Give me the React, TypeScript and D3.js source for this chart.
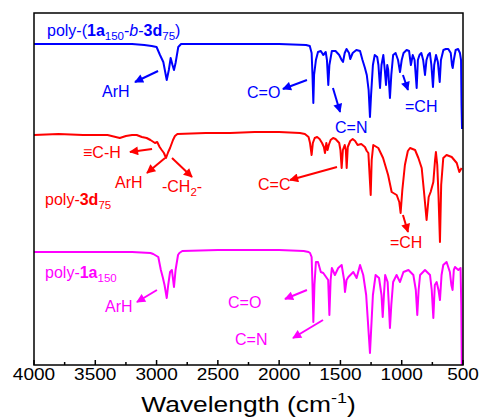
import React, { useEffect, useRef } from "react";
import * as d3 from "d3";

// IR spectra, wavenumber in cm-1, intensity in stacked a.u.
const xTicks = [4000, 3500, 3000, 2500, 2000, 1500, 1000, 500];
const minorTicks = [3750, 3250, 2750, 2250, 1750, 1250, 750];

const blueWn = [4000, 3500, 3200, 3100, 3040, 3000, 2972, 2945, 2925, 2917, 2900, 2885, 2870, 2858, 2845, 2823, 2800, 2500, 2000, 1780, 1750, 1735, 1728, 1721, 1715, 1700, 1683, 1660, 1640, 1620, 1610, 1599, 1590, 1570, 1540, 1510, 1490, 1479, 1465, 1450, 1430, 1420, 1400, 1370, 1340, 1320, 1300, 1285, 1270, 1259, 1250, 1235, 1220, 1200, 1190, 1177, 1165, 1150, 1138, 1128, 1118, 1110, 1096, 1085, 1070, 1050, 1030, 1014, 1000, 985, 960, 940, 925, 910, 895, 878, 868, 855, 840, 825, 810, 798, 785, 770, 758, 745, 735, 720, 705, 690, 680, 660, 640, 620, 600, 590, 584, 575, 560, 540, 525, 516, 512, 508];
const blueVal = [321, 321, 321, 320, 319, 318, 310, 303, 290, 285, 295, 307, 300, 295, 302, 318, 321, 321, 321, 320, 319, 312, 290, 262, 290, 305, 313, 314, 310, 313, 305, 280, 300, 314, 314, 310, 305, 303, 312, 316, 312, 306, 312, 315, 314, 305, 297, 290, 275, 248, 270, 300, 310, 308, 300, 277, 300, 310, 295, 280, 300, 295, 267, 290, 310, 312, 305, 293, 305, 312, 315, 314, 300, 310, 305, 277, 305, 310, 312, 305, 290, 305, 310, 312, 300, 278, 300, 310, 303, 283, 305, 315, 316, 316, 312, 300, 297, 305, 315, 316, 312, 305, 260, 236];

const redWn = [4000, 3800, 3600, 3400, 3300, 3250, 3200, 3162, 3120, 3081, 3050, 3013, 2995, 2975, 2958, 2940, 2923, 2905, 2890, 2875, 2866, 2850, 2830, 2600, 2400, 2200, 2000, 1830, 1790, 1760, 1748, 1735, 1725, 1710, 1690, 1670, 1650, 1635, 1626, 1615, 1605, 1595, 1580, 1560, 1540, 1510, 1500, 1490, 1480, 1465, 1456, 1449, 1440, 1420, 1400, 1380, 1360, 1330, 1300, 1285, 1272, 1253, 1245, 1232, 1191, 1152, 1111, 1082, 1041, 1020, 1009, 995, 974, 950, 932, 891, 864, 837, 818, 797, 780, 764, 742, 728, 721, 710, 700, 688, 678, 661, 634, 592, 551, 530, 511];
const redVal = [230, 231, 230, 230, 227, 229, 230, 230, 228, 227, 225, 222, 223, 218, 215, 212, 207, 213, 217, 222, 225, 229, 231, 232, 232, 233, 233, 232, 231, 228, 222, 210, 222, 227, 228, 226, 222, 218, 212, 222, 215, 220, 225, 227, 226, 222, 215, 197, 215, 220, 215, 197, 218, 224, 226, 224, 220, 221, 218, 214, 212, 170, 205, 220, 217, 207, 190, 173, 170, 163, 152, 175, 200, 214, 217, 215, 207, 197, 173, 145, 168, 173, 183, 205, 213, 200, 170, 123, 180, 207, 210, 208, 202, 193, 197];

const pinkWn = [4000, 3500, 3200, 3050, 3027, 2986, 2965, 2950, 2935, 2917, 2905, 2890, 2875, 2858, 2845, 2825, 2814, 2790, 2500, 2200, 2000, 1800, 1760, 1748, 1735, 1728, 1721, 1712, 1700, 1683, 1660, 1640, 1600, 1590, 1580, 1570, 1545, 1518, 1490, 1470, 1463, 1450, 1435, 1395, 1368, 1340, 1314, 1290, 1259, 1235, 1213, 1185, 1165, 1155, 1145, 1135, 1115, 1105, 1096, 1085, 1070, 1042, 1014, 986, 945, 905, 885, 873, 862, 850, 810, 769, 755, 742, 730, 715, 700, 688, 675, 661, 634, 607, 595, 585, 575, 565, 538, 520, 514, 510];
const pinkVal = [113, 113, 113, 112, 111, 108, 95, 88, 80, 67, 80, 93, 95, 78, 95, 110, 112, 114, 115, 115, 115, 114, 113, 112, 108, 80, 43, 80, 103, 103, 93, 92, 85, 50, 85, 97, 90, 97, 100, 85, 73, 85, 88, 93, 87, 100, 90, 70, 12, 70, 90, 87, 70, 48, 70, 90, 83, 60, 37, 60, 83, 90, 83, 93, 95, 90, 75, 50, 75, 90, 95, 90, 75, 47, 80, 83, 75, 65, 90, 100, 103, 93, 80, 75, 95, 98, 95, 97, 60, 0];

type Part = { t: string; b?: boolean; i?: boolean; sub?: boolean };

const blueName: Part[] = [{ t: "poly-(" }, { t: "1a", b: true }, { t: "150", sub: true }, { t: "-" }, { t: "b", i: true }, { t: "-" }, { t: "3d", b: true }, { t: "75", sub: true }, { t: ")" }];
const redName: Part[] = [{ t: "poly-" }, { t: "3d", b: true }, { t: "75", sub: true }];
const pinkName: Part[] = [{ t: "poly-" }, { t: "1a", b: true }, { t: "150", sub: true }];

// annotations in data units: label at (lx, ly), arrow from (a0, a1) to (a2, a3)
type Note = { parts: Part[]; lx: number; ly: number; a?: number[] };
const blueNotes: Note[] = [
  { parts: [{ t: "ArH" }], lx: 3445, ly: 268, a: [2988, 294, 3176, 283] },
  { parts: [{ t: "C=O" }], lx: 2262, ly: 267, a: [1773, 285, 1969, 276] },
  { parts: [{ t: "C=N" }], lx: 1544, ly: 232, a: [1561, 277, 1503, 253] },
  { parts: [{ t: "=CH" }], lx: 973, ly: 253, a: [990, 290, 949, 275] },
];
const redNotes: Note[] = [
  { parts: [{ t: "\u2261C-H" }], lx: 3600, ly: 207, a: [3037, 216, 3217, 213] },
  { parts: [{ t: "ArH" }], lx: 3339, ly: 177, a: [2931, 207, 3078, 192] },
  { parts: [{ t: "-CH" }, { t: "2", sub: true }, { t: "-" }], lx: 2956, ly: 173, a: [2874, 207, 2711, 188] },
  { parts: [{ t: "C=C" }], lx: 2172, ly: 175, a: [1528, 198, 1911, 185] },
  { parts: [{ t: "=CH" }], lx: 1096, ly: 117, a: [990, 150, 949, 133] },
];
const pinkNotes: Note[] = [
  { parts: [{ t: "ArH" }], lx: 3421, ly: 53, a: [2997, 75, 3160, 63] },
  { parts: [{ t: "C=O" }], lx: 2417, ly: 57, a: [1773, 75, 1952, 66] },
  { parts: [{ t: "C=N" }], lx: 2360, ly: 20, a: [1642, 45, 1887, 27] },
];

function richText(g: any, parts: Part[], x: number, y: number, size: number, color: string) {
  const t = g.append("text").attr("x", x).attr("y", y).attr("fill", color).style("font-size", size + "px");
  let shifted = false;
  parts.forEach((p) => {
    const s = t.append("tspan").text(p.t);
    if (p.b) s.style("font-weight", "bold");
    if (p.i) s.style("font-style", "italic");
    if (p.sub) {
      s.style("font-size", size * 0.72 + "px").attr("dy", 4);
      shifted = true;
    } else if (shifted) {
      s.attr("dy", -4);
      shifted = false;
    }
  });
  return t;
}

export default function App() {
  const ref = useRef<SVGSVGElement>(null);

  useEffect(() => {
    const svg = d3.select(ref.current);
    svg.selectAll("*").remove();
    const left = 34, right = 463, top = 13, bottom = 365;
    const x = d3.scaleLinear().domain([4000, 500]).range([left, right]);
    const y = d3.scaleLinear().domain([0, 352]).range([bottom, top]);

    const g = svg.append("g").style("font-family", "'Liberation Sans', Arial, sans-serif");

    const defs = svg.append("defs");
    const colors = { blue: "#0000ff", red: "#ff0000", pink: "#ff00ff" };
    Object.entries(colors).forEach(([k, c]) => {
      defs.append("marker")
        .attr("id", "arr-" + k)
        .attr("markerUnits", "userSpaceOnUse")
        .attr("viewBox", "0 0 10 10")
        .attr("refX", 9).attr("refY", 5)
        .attr("markerWidth", 11).attr("markerHeight", 9)
        .attr("orient", "auto")
        .append("path").attr("d", "M0,0 L10,5 L0,10 Z").attr("fill", c);
    });

    const series = [
      { wn: blueWn, val: blueVal, c: colors.blue, k: "blue", name: blueName, nx: 3894, ny: 329, notes: blueNotes },
      { wn: redWn, val: redVal, c: colors.red, k: "red", name: redName, nx: 3910, ny: 160, notes: redNotes },
      { wn: pinkWn, val: pinkVal, c: colors.pink, k: "pink", name: pinkName, nx: 3910, ny: 87, notes: pinkNotes },
    ];

    series.forEach((s) => {
      const pts = s.wn.map((w, i) => [w, s.val[i]] as [number, number]);
      const path = d3.line<[number, number]>().x((d) => x(d[0])).y((d) => y(d[1]));
      g.append("path")
        .attr("d", path(pts))
        .attr("fill", "none")
        .attr("stroke", s.c)
        .attr("stroke-width", 2)
        .attr("stroke-linejoin", "round");
      richText(g, s.name, x(s.nx), y(s.ny), 16, s.c);
      s.notes.forEach((n) => {
        richText(g, n.parts, x(n.lx), y(n.ly), 16, s.c);
        if (n.a) {
          g.append("line")
            .attr("x1", x(n.a[0])).attr("y1", y(n.a[1]))
            .attr("x2", x(n.a[2])).attr("y2", y(n.a[3]))
            .attr("stroke", s.c).attr("stroke-width", 2)
            .attr("marker-end", `url(#arr-${s.k})`);
        }
      });
    });

    // frame
    g.append("rect")
      .attr("x", left).attr("y", top)
      .attr("width", right - left).attr("height", bottom - top)
      .attr("fill", "none").attr("stroke", "#000").attr("stroke-width", 1.5);

    // ticks inside, pointing up
    xTicks.forEach((t) => {
      g.append("line").attr("x1", x(t)).attr("x2", x(t)).attr("y1", bottom).attr("y2", bottom - 5)
        .attr("stroke", "#000").attr("stroke-width", 1.5);
      g.append("text")
        .attr("transform", `translate(${x(t)},${bottom + 15}) scale(1.12,1)`)
        .attr("text-anchor", "middle")
        .style("font-size", "17px")
        .text(t);
    });
    minorTicks.forEach((t) => {
      g.append("line").attr("x1", x(t)).attr("x2", x(t)).attr("y1", bottom).attr("y2", bottom - 3)
        .attr("stroke", "#000").attr("stroke-width", 1.5);
    });

    const title = g.append("text")
      .attr("transform", `translate(${(left + right) / 2},${bottom + 47}) scale(1.2,1)`)
      .attr("text-anchor", "middle")
      .style("font-size", "22px");
    title.append("tspan").text("Wavelength (cm");
    title.append("tspan").text("-1").style("font-size", "15px").attr("dy", -9);
    title.append("tspan").text(")").attr("dy", 9);
  }, []);

  return (
    <svg ref={ref} width={482} height={418} style={{ position: "absolute", left: 0, top: 0, background: "#fff" }} />
  );
}
